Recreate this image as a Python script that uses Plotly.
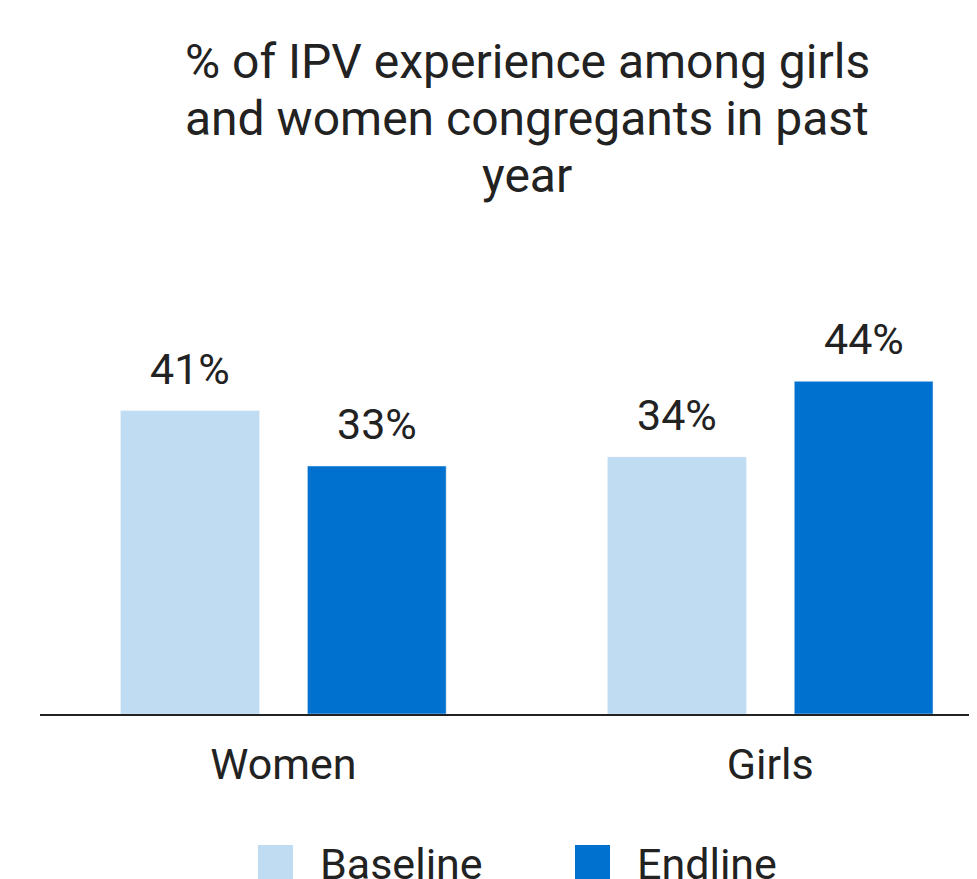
import plotly.graph_objects as go

categories = ["Women", "Girls"]
baseline = [40.1, 34.0]
endline = [32.8, 44.0]
baseline_labels = ["41%", "34%"]
endline_labels = ["33%", "44%"]
series_names = ["Baseline", "Endline"]
title_lines = ["% of IPV experience among girls", "and women congregants in past", "year"]

W, H = 977, 879
OFF = 8           # page offset of the figure inside the browser window
L, T, B = 32, 328, 173
PW = W - L
PH = H - T - B
AXIS_Y = H - B

def px(xs):
    return (xs - OFF - L) / PW

def py(ys):
    return (AXIS_Y - (ys - OFF)) / PH

light = "#BFDCF3"
dark = "#0071CE"
txt = "#222222"
FONT = "Roboto"
FS = 43

GROUP_W = 0.767
SLOT = GROUP_W / 2

fig = go.Figure()
fig.add_trace(go.Bar(x=categories, y=baseline, name=series_names[0], marker_color=light))
fig.add_trace(go.Bar(x=categories, y=endline, name=series_names[1], marker_color=dark))

# value labels above the bars
for j, (vals, labs) in enumerate([(baseline, baseline_labels), (endline, endline_labels)]):
    for i, (v, lab) in enumerate(zip(vals, labs)):
        fig.add_annotation(x=i - GROUP_W / 2 + SLOT * (j + 0.5), y=v, xref="x", yref="y",
                           text=lab, showarrow=False, yanchor="bottom", yshift=15,
                           font=dict(size=FS, color=txt, family=FONT))

# title, line by line
for k, line in enumerate(title_lines):
    fig.add_annotation(text=line, xref="paper", yref="paper", x=px(527), y=py(61 + 57 * k),
                       xanchor="center", yanchor="middle", showarrow=False,
                       font=dict(size=48, color=txt, family=FONT))

# manual legend
for name, col, sx, tx in [(series_names[0], light, 258, 318),
                          (series_names[1], dark, 575, 635)]:
    fig.add_shape(type="rect", xref="paper", yref="paper",
                  x0=px(sx), x1=px(sx + 35), y0=py(845), y1=py(895),
                  fillcolor=col, line=dict(width=0))
    fig.add_annotation(text=name, xref="paper", yref="paper", x=px(tx), y=py(864),
                       xanchor="left", yanchor="middle", showarrow=False,
                       font=dict(size=FS, color=txt, family=FONT))

fig.update_layout(
    width=W, height=H,
    margin=dict(l=L, r=0, t=T, b=B),
    paper_bgcolor="white", plot_bgcolor="white",
    barmode="group", bargap=1 - GROUP_W, bargroupgap=0.257,
    showlegend=False,
    font=dict(family=FONT, color=txt),
    xaxis=dict(range=[-0.5, 1.441], showline=True, linecolor="#222222", linewidth=2,
               ticks="", ticklabelstandoff=11,
               tickfont=dict(size=FS, color=txt, family=FONT), showgrid=False),
    yaxis=dict(range=[0, 50], visible=False, showgrid=False, zeroline=False),
)

fig.write_html("out.html")
